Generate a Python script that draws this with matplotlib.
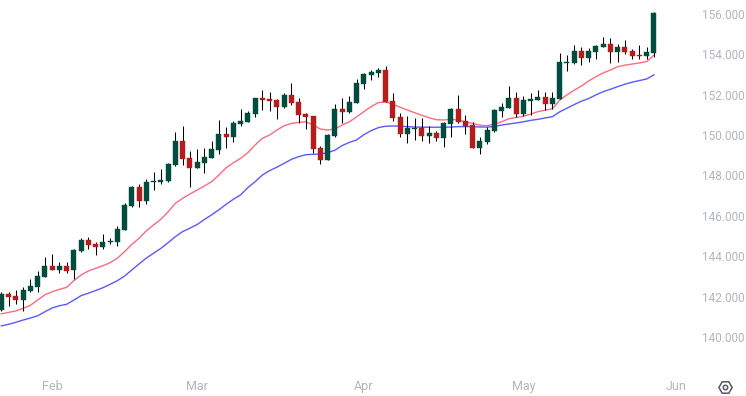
import matplotlib
matplotlib.use('Agg')
from matplotlib import pyplot as plt

opens = [141.34,142.13,142.03,141.83,142.28,142.47,142.97,143.52,143.32,143.52,
         143.32,144.26,144.80,144.60,144.46,144.70,144.70,145.30,146.49,147.43,
         146.73,147.68,147.68,147.72,148.52,149.71,148.86,148.37,148.62,148.86,
         149.26,150.05,149.90,150.55,150.65,151.04,151.84,151.79,151.74,151.39,
         151.98,151.64,151.04,150.94,149.36,148.77,149.95,151.29,151.14,151.59,
         152.53,152.98,153.07,153.22,151.69,150.90,150.05,150.30,150.35,149.95,
         150.10,149.86,150.55,151.29,150.70,150.50,149.36,149.66,150.20,151.19,
         151.34,151.84,151.04,151.69,151.74,151.89,151.54,151.79,153.57,153.57,
         154.16,153.82,154.11,154.36,154.51,154.11,154.36,154.16,153.97,153.92,
         154.07]
closes = [142.13,141.98,141.83,142.33,142.52,143.02,143.52,143.32,143.52,143.27,
          144.31,144.80,144.56,144.46,144.70,144.75,145.35,146.54,147.43,146.73,
          147.68,147.72,147.77,148.57,149.71,148.82,148.37,148.67,148.91,149.31,
          150.05,149.90,150.60,150.70,151.09,151.84,151.74,151.69,151.39,151.98,
          151.59,150.99,150.90,149.31,148.77,150.00,151.29,151.14,151.64,152.58,
          153.02,153.12,153.22,151.64,150.85,150.05,150.35,150.35,149.95,150.10,
          149.86,150.60,151.29,150.65,150.45,149.36,149.71,150.25,151.24,151.39,
          151.84,151.04,151.74,151.79,151.89,151.54,151.84,153.62,153.62,154.16,
          153.82,154.16,154.41,154.51,154.11,154.36,154.11,153.92,153.92,154.11,
          156.05]
highs = [142.23,142.23,142.33,142.47,142.87,143.27,143.96,144.11,143.71,143.71,
         144.36,144.90,144.95,144.70,145.10,144.90,145.50,146.64,147.48,147.58,
         147.82,148.17,148.32,148.62,150.15,150.45,149.21,149.31,149.36,149.71,
         150.75,150.40,150.70,151.29,151.19,151.84,152.23,152.13,151.79,152.08,
         152.58,151.84,151.09,150.94,149.46,150.05,151.54,151.84,151.94,152.78,
         153.07,153.22,153.32,153.42,152.08,151.09,150.94,150.85,150.85,150.45,
         150.20,150.65,151.34,151.98,150.99,150.65,149.90,150.40,151.29,151.59,
         152.43,152.13,151.94,152.08,152.23,152.13,152.13,154.07,153.97,154.46,
         154.36,154.31,154.46,154.86,154.81,154.51,154.71,154.26,154.46,154.36,
         156.10]
lows = [141.29,141.53,141.63,141.29,142.23,142.23,142.97,143.32,143.17,143.17,
        142.87,144.21,144.36,144.06,144.36,144.60,144.51,145.30,146.44,146.44,
        146.59,147.28,147.58,147.68,148.47,148.52,147.43,148.37,148.12,148.86,
        149.06,149.36,149.66,150.45,150.65,150.90,151.24,151.19,150.80,151.34,
        151.49,150.60,150.30,149.11,148.57,148.77,149.90,150.60,151.09,151.59,
        152.28,152.73,152.88,151.64,150.70,149.90,149.61,149.76,149.71,149.61,
        149.71,149.41,149.90,150.60,150.05,149.36,149.06,149.56,150.15,150.90,
        151.34,150.90,150.94,150.99,151.74,151.24,151.29,151.79,153.17,153.52,
        153.47,153.62,153.77,154.36,153.57,153.62,154.02,153.77,153.77,153.77,
        153.87]
ema_fast = [141.15,141.22,141.29,141.42,141.57,141.83,142.09,142.24,142.36,142.46,
            142.79,143.07,143.27,143.40,143.53,143.68,143.90,144.23,144.59,144.89,
            145.26,145.55,145.83,146.20,146.62,146.87,147.08,147.28,147.48,147.69,
            148.02,148.38,148.63,148.85,149.13,149.51,149.84,150.00,150.25,150.46,
            150.58,150.63,150.66,150.50,150.30,150.25,150.30,150.50,150.66,150.90,
            151.16,151.41,151.61,151.64,151.53,151.38,151.24,151.11,150.98,150.86,
            150.76,150.75,150.78,150.75,150.65,150.58,150.49,150.46,150.54,150.66,
            150.81,150.87,150.93,151.04,151.16,151.23,151.30,151.73,151.99,152.22,
            152.43,152.68,152.89,153.08,153.22,153.39,153.46,153.52,153.57,153.64,
            153.95]
ema_slow = [140.55,140.63,140.73,140.84,140.94,141.05,141.25,141.44,141.55,141.62,
            141.83,142.05,142.17,142.30,142.44,142.61,142.79,143.02,143.32,143.62,
            143.91,144.15,144.39,144.67,144.97,145.22,145.39,145.57,145.82,146.05,
            146.30,146.57,146.82,147.04,147.40,147.69,148.02,148.24,148.41,148.60,
            148.80,148.93,149.03,149.05,149.06,149.13,149.25,149.48,149.64,149.76,
            150.02,150.22,150.37,150.44,150.45,150.44,150.42,150.40,150.39,150.39,
            150.39,150.39,150.40,150.42,150.42,150.42,150.40,150.40,150.42,150.50,
            150.55,150.60,150.66,150.73,150.78,150.85,150.91,151.15,151.33,151.51,
            151.68,151.81,151.99,152.15,152.27,152.40,152.52,152.62,152.70,152.78,
            152.98]
price_ticks = [140,142,144,146,148,150,152,154,156]
month_pos = [7,27,50,72,93]
month_labels = ['Feb','Mar','Apr','May','Jun']

green = '#004d40'
red = '#b71c1c'
grey = '#b2b5be'

plt.rcParams['font.family'] = ['Roboto','DejaVu Sans']
fig = plt.figure(figsize=(7.46,3.96),dpi=100)
ax = fig.add_axes([0,0,1,1])

xs = list(range(len(opens)))
ax.plot(xs,ema_slow,c='#5a5aff',linewidth=1,zorder=1)
ax.plot(xs,ema_fast,c='#ff6b7d',linewidth=1,zorder=1)

ax.vlines(xs,lows,highs,colors='black',linewidth=0.75,zorder=2)
colors = [green if c >= o else red for o,c in zip(opens,closes)]
bottoms = [min(o,c) for o,c in zip(opens,closes)]
heights = [abs(c-o) for o,c in zip(opens,closes)]
ax.bar(xs,heights,bottom=bottoms,width=0.69,color=colors,edgecolor=colors,linewidth=0.3,zorder=3)

ax.set_xlim(-0.18,102.7)
ax.set_ylim(137.08,156.69)

ax.yaxis.tick_right()
ax.set_yticks(price_ticks)
ax.set_yticklabels(['%.3f' % p for p in price_ticks])
ax.set_xticks(month_pos)
ax.set_xticklabels(month_labels)
ax.tick_params(axis='y',length=0,pad=-31.5,labelsize=8.5,labelcolor=grey)
ax.tick_params(axis='x',length=0,pad=-11.5,labelsize=9,labelcolor=grey)
for s in ax.spines.values():
    s.set_visible(False)

# settings icon, bottom right
ax.plot([0.972],[0.023],marker='H',ms=9.5,mfc='white',mec='#555a66',mew=1.1,transform=ax.transAxes,clip_on=False)
ax.plot([0.972],[0.023],marker='o',ms=3.2,mfc='white',mec='#555a66',mew=1.1,transform=ax.transAxes,clip_on=False)

fig.savefig('out.png',dpi=100)
